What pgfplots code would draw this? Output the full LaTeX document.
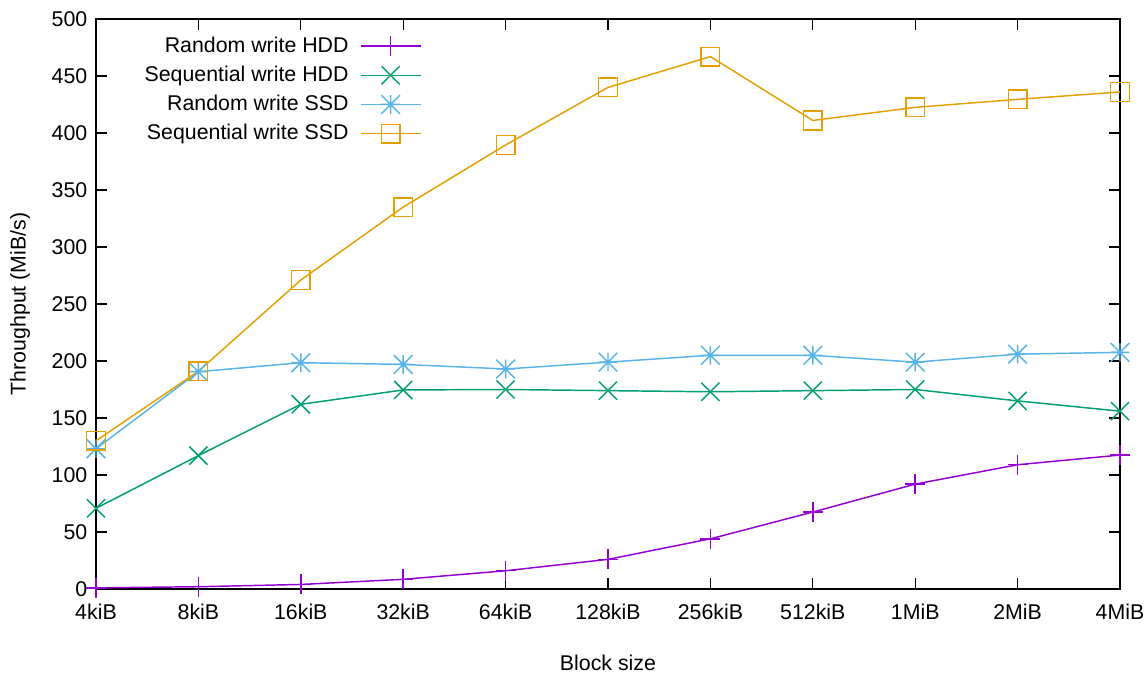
\documentclass[border=0pt]{standalone}
\usepackage{fontspec}
\setmainfont{Liberation Sans}
\usepackage{pgfplots}
\pgfplotsset{compat=1.18}
\definecolor{gpPurple}{HTML}{9400D3}
\definecolor{gpGreen}{HTML}{009E73}
\definecolor{gpBlue}{HTML}{56B4E9}
\definecolor{gpOrange}{HTML}{E69F00}
\pgfdeclareplotmark{gpx}{%
  \pgfpathmoveto{\pgfqpoint{-\pgfplotmarksize}{-\pgfplotmarksize}}%
  \pgfpathlineto{\pgfqpoint{\pgfplotmarksize}{\pgfplotmarksize}}%
  \pgfpathmoveto{\pgfqpoint{-\pgfplotmarksize}{\pgfplotmarksize}}%
  \pgfpathlineto{\pgfqpoint{\pgfplotmarksize}{-\pgfplotmarksize}}%
  \pgfusepathqstroke}
\pgfdeclareplotmark{gpstar}{%
  \pgfpathmoveto{\pgfqpoint{-\pgfplotmarksize}{-\pgfplotmarksize}}%
  \pgfpathlineto{\pgfqpoint{\pgfplotmarksize}{\pgfplotmarksize}}%
  \pgfpathmoveto{\pgfqpoint{-\pgfplotmarksize}{\pgfplotmarksize}}%
  \pgfpathlineto{\pgfqpoint{\pgfplotmarksize}{-\pgfplotmarksize}}%
  \pgfpathmoveto{\pgfqpoint{-\pgfplotmarksize}{0pt}}%
  \pgfpathlineto{\pgfqpoint{\pgfplotmarksize}{0pt}}%
  \pgfpathmoveto{\pgfqpoint{0pt}{-\pgfplotmarksize}}%
  \pgfpathlineto{\pgfqpoint{0pt}{\pgfplotmarksize}}%
  \pgfusepathqstroke}
\pgfplotstableread{
x rhdd shdd rssd sssd
0  1    70.8 123   130
1  2    117  190.6 191
2  4    162  198.5 271
3  8.5  174.6 197  335
4  16   175  193   389.5
5  26   174  199   440
6  44   173  205   467
7  67.5 174  205   411
8  92   175  199   422.5
9  109  165  206   429.5
10 117.5 156 207.6 436
}\datatable
\begin{document}
\fontsize{16pt}{19.2pt}\selectfont
\begin{tikzpicture}
\useasboundingbox (-72pt,-67.5pt) rectangle (788.25pt,441.75pt);
\begin{axis}[
  scale only axis,
  width=768pt, height=427.5pt,
  xmin=0, xmax=10, ymin=0, ymax=500,
  xtick={0,...,10},
  xticklabels={4kiB,8kiB,16kiB,32kiB,64kiB,128kiB,256kiB,512kiB,1MiB,2MiB,4MiB},
  ytick={0,50,...,500},
  tick align=inside,
  major tick length=8pt,
  tick style={black, line width=0.9pt},
  axis line style={black, line width=1.2pt},
  /pgf/number format/assume math mode=true,
  tick label style={font=\fontsize{16pt}{19.2pt}\selectfont},
  label style={font=\fontsize{16pt}{19.2pt}\selectfont},
  xlabel={Block size},
  ylabel={Throughput (MiB/s)},
  xlabel style={at={(axis description cs:0.5,-0.1298)}, anchor=center},
  ylabel style={at={(axis description cs:-0.0742,0.5)}, anchor=center},
  yticklabel style={xshift=-1pt},
  xticklabel style={yshift=-6pt},
  legend cell align=right,
  legend plot pos=right,
  legend style={at={(axis description cs:0.318,0.974)}, anchor=north east,
    draw=none, fill=none, font=\fontsize{16pt}{19.2pt}\selectfont,
    row sep=3.9pt, column sep=6.5pt, inner sep=0pt},
  legend image code/.code={\draw[mark repeat=2,mark phase=2] plot coordinates {(0pt,0pt) (22.5pt,0pt) (45pt,0pt)};},
  every axis plot/.append style={line width=1.1pt},
]
\addplot[color=gpPurple, mark=+, mark size=7.5pt] table[x=x,y=rhdd] {\datatable};
\addlegendentry{Random write HDD}
\addplot[color=gpGreen, mark=gpx, mark size=6.8pt] table[x=x,y=shdd] {\datatable};
\addlegendentry{Sequential write HDD}
\addplot[color=gpBlue, mark=gpstar, mark size=7pt] table[x=x,y=rssd] {\datatable};
\addlegendentry{Random write SSD}
\addplot[color=gpOrange, mark=square, mark size=7pt] table[x=x,y=sssd] {\datatable};
\addlegendentry{Sequential write SSD}
\end{axis}
\end{tikzpicture}
\end{document}
